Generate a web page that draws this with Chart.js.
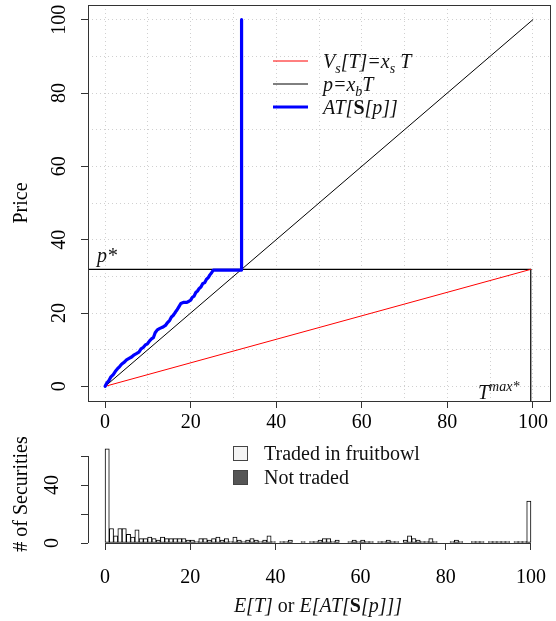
<!DOCTYPE html>
<html>
<head>
<meta charset="utf-8">
<script src="https://cdn.jsdelivr.net/npm/chart.js@4.4.1/dist/chart.umd.min.js"></script>
<style>
  body { margin: 0; background: #fff; width: 556px; height: 621px; position: relative; overflow: hidden; }
  canvas { position: absolute; left: 0; }
  #top { top: 0; }
  #hist { top: 436px; }
</style>
</head>
<body>
<canvas id="top" width="556" height="440"></canvas>
<canvas id="hist" width="556" height="185"></canvas>
<script>
// tick labels
const priceTicks = [0, 20, 40, 60, 80, 100];
const gridLines = [0, 10, 20, 30, 40, 50, 60, 70, 80, 90, 100];
const countTicks = [0, 20, 40, 60];
const countLabels = ["0", "", "40", ""];

// equilibrium values
const pStar = 31.9;
const tMax = 99.5;

// p = x_b T
const buyerT = [0, 100];
const buyerP = [0, 100];
// V_s[T] = x_s T
const sellerT = [0, tMax];
const sellerV = [0, pStar];
// AT[S[p]] (stepwise)
const atT = [0, 0.4, 0.9, 1.3, 1.9, 2.4, 2.9, 3.4, 3.9, 4.5, 5.0, 5.6, 6.2, 6.8, 7.3, 7.9,
  8.4, 8.9, 9.4, 9.9, 10.4, 10.9, 11.3, 11.7, 12.2, 12.8, 13.4, 14.1, 14.6, 15.1, 15.5,
  15.9, 16.4, 16.8, 17.2, 17.7, 18.4, 19.1, 19.6, 20.0, 20.4, 20.8, 21.2, 21.6, 22.0,
  22.4, 22.8, 23.3, 23.7, 24.1, 24.5, 24.9, 25.3, 31.9, 31.9];
const atP = [0, 0.9, 1.6, 2.5, 3.2, 4.1, 4.8, 5.4, 6.1, 6.6, 7.2, 7.6, 8.0, 8.6, 8.9, 9.3,
  10.2, 10.6, 11.3, 11.6, 12.4, 13.0, 13.3, 14.6, 15.4, 15.8, 16.1, 16.6, 17.4, 18.0, 18.9,
  19.3, 20.2, 20.8, 21.6, 22.6, 22.9, 22.9, 23.2, 23.5, 24.3, 24.6, 25.6, 26.0, 26.7,
  27.1, 28.0, 28.3, 29.2, 29.6, 30.4, 31.0, 31.7, 31.7, 100];

// histogram, bins of width 1 from 0 to 100
const tradedCounts = [
  65, 10, 5, 10, 10, 6, 4, 9, 3, 3, 4, 3, 2, 4, 3, 3, 3, 3, 3, 2,
  2, 1, 3, 3, 2, 3, 4, 2, 3, 1, 4, 2, 1, 2, 3, 2, 1, 2, 5, 1,
  0, 1, 1, 2, 0, 0, 1, 0, 1, 1, 2, 3, 3, 1, 2, 0, 0, 1, 2, 1,
  2, 1, 1, 0, 1, 1, 2, 1, 1, 0, 2, 5, 3, 2, 1, 1, 3, 1, 0, 0,
  0, 1, 2, 1, 0, 0, 1, 1, 1, 0, 1, 1, 1, 1, 1, 0, 1, 1, 1, 29];

const serif = '"Liberation Serif", "DejaVu Serif", serif';
const it = (s) => "italic " + s + "px " + serif;
const bd = (s) => "bold " + s + "px " + serif;
const rm = (s) => s + "px " + serif;
const tickFont = { family: serif, size: 20 };

function pts(xs, ys) {
  return xs.map((x, i) => ({ x: x, y: ys[i] }));
}

// draw a run of text pieces [text, font, dy]
function rich(ctx, parts, x, y, align) {
  ctx.save();
  ctx.textBaseline = "alphabetic";
  ctx.textAlign = "left";
  let w = 0;
  parts.forEach((p) => { ctx.font = p[1]; w += ctx.measureText(p[0]).width; });
  let cx = align === "center" ? x - w / 2 : x;
  parts.forEach((p) => {
    ctx.font = p[1];
    ctx.fillText(p[0], cx, y + (p[2] || 0));
    cx += ctx.measureText(p[0]).width;
  });
  ctx.restore();
}

function vlabel(ctx, text, x, y) {
  ctx.save();
  ctx.translate(x, y);
  ctx.rotate(-Math.PI / 2);
  ctx.font = rm(20);
  ctx.fillStyle = "#000";
  ctx.textAlign = "center";
  ctx.textBaseline = "middle";
  ctx.fillText(text, 0, 0);
  ctx.restore();
}

// keep the plot region fixed, whatever the label widths
function fixX(h) {
  return (s) => { s.height = h; s.paddingLeft = 0; s.paddingRight = 0; };
}

const lineDefaults = { showLine: true, pointRadius: 0, fill: false, tension: 0,
  borderCapStyle: "round", borderJoinStyle: "round" };

const topDecor = {
  id: "topDecor",
  afterDraw(chart) {
    const ctx = chart.ctx;
    const a = chart.chartArea;
    ctx.save();
    ctx.strokeStyle = "#333";
    ctx.lineWidth = 1;
    ctx.strokeRect(a.left + 0.5, a.top + 0.5, a.right - a.left, a.bottom - a.top);
    priceTicks.forEach((v) => vlabel(ctx, String(v), 60, chart.scales.y.getPixelForValue(v)));

    // legend
    const rows = [
      { color: "#ff0000", w: 1, y: 61, parts: [["V", it(20)], ["s", it(14), 5], ["[T]=x", it(20)], ["s", it(14), 5], [" T", it(20)]] },
      { color: "#000000", w: 1, y: 84, parts: [["p=x", it(20)], ["b", it(14), 5], ["T", it(20)]] },
      { color: "#0000ff", w: 3.2, y: 107, parts: [["AT[", it(20)], ["S", bd(20)], ["[p]]", it(20)]] },
    ];
    ctx.fillStyle = "#111";
    rows.forEach((r) => {
      ctx.strokeStyle = r.color;
      ctx.lineWidth = r.w;
      ctx.beginPath();
      ctx.moveTo(273, r.y);
      ctx.lineTo(308, r.y);
      ctx.stroke();
      rich(ctx, r.parts, 323, r.y + 7);
    });

    rich(ctx, [["p*", it(20)]], 97, 262);
    rich(ctx, [["T", it(20)], ["max*", it(14), -8]], 478, 399);
    ctx.restore();
  },
};

new Chart(document.getElementById("top"), {
  type: "scatter",
  data: {
    datasets: [
      Object.assign({ data: pts(atT, atP), borderColor: "#0000ff", borderWidth: 3.2, order: 0 }, lineDefaults),
      Object.assign({ data: pts(buyerT, buyerP), borderColor: "#000", borderWidth: 1, order: 1 }, lineDefaults),
      Object.assign({ data: pts(sellerT, sellerV), borderColor: "#ff0000", borderWidth: 1, order: 2 }, lineDefaults),
      Object.assign({ data: [{ x: -4, y: pStar }, { x: tMax, y: pStar }], borderColor: "#000", borderWidth: 1.2, order: 3 }, lineDefaults),
      Object.assign({ data: [{ x: tMax, y: -4 }, { x: tMax, y: pStar }], borderColor: "#000", borderWidth: 1.2, order: 4 }, lineDefaults),
    ],
  },
  options: {
    responsive: false,
    animation: false,
    devicePixelRatio: 1,
    layout: { padding: { left: 0, right: 6, top: 5, bottom: 0 } },
    plugins: { legend: { display: false }, tooltip: { enabled: false } },
    scales: {
      x: {
        type: "linear",
        min: -4,
        max: 104,
        afterBuildTicks: (s) => { s.ticks = gridLines.map((v) => ({ value: v })); },
        afterFit: fixX(39),
        ticks: {
          callback: (v) => (priceTicks.includes(v) ? String(v) : ""),
          font: tickFont, color: "#000", padding: 3, maxRotation: 0, autoSkip: false,
        },
        grid: {
          color: "#d0d0d0",
          tickLength: 7,
          tickColor: (c) => (c.tick && priceTicks.includes(c.tick.value) ? "#333" : "rgba(0,0,0,0)"),
        },
        border: { display: false, dash: [1, 3] },
      },
      y: {
        type: "linear",
        min: -4,
        max: 104,
        afterBuildTicks: (s) => { s.ticks = gridLines.map((v) => ({ value: v })); },
        afterFit: (s) => { s.width = 88; },
        ticks: { display: false },
        grid: {
          color: "#d0d0d0",
          tickLength: 7,
          tickColor: (c) => (c.tick && priceTicks.includes(c.tick.value) ? "#333" : "rgba(0,0,0,0)"),
        },
        border: { display: false, dash: [1, 3] },
        title: { display: true, text: "Price", font: tickFont, color: "#000", padding: { top: 10, bottom: 0 } },
      },
    },
  },
  plugins: [topDecor],
});

const histDecor = {
  id: "histDecor",
  afterDraw(chart) {
    const ctx = chart.ctx;
    const x = chart.scales.x;
    const y = chart.scales.y;
    const a = chart.chartArea;
    ctx.save();
    ctx.strokeStyle = "#333";
    ctx.lineWidth = 1;
    ctx.beginPath();
    ctx.moveTo(x.getPixelForValue(0), Math.round(a.bottom) + 0.5);
    ctx.lineTo(x.getPixelForValue(100), Math.round(a.bottom) + 0.5);
    ctx.moveTo(Math.round(a.left) + 0.5, y.getPixelForValue(0));
    ctx.lineTo(Math.round(a.left) + 0.5, y.getPixelForValue(60));
    ctx.stroke();
    countTicks.forEach((v, i) => { if (countLabels[i]) vlabel(ctx, countLabels[i], 53, y.getPixelForValue(v)); });

    // legend
    ctx.fillStyle = "#f4f4f4";
    ctx.strokeStyle = "#444";
    ctx.fillRect(233.5, 446.5 - 436, 14, 14);
    ctx.strokeRect(233.5, 446.5 - 436, 14, 14);
    ctx.fillStyle = "#555";
    ctx.fillRect(233.5, 470.5 - 436, 14, 14);
    ctx.strokeRect(233.5, 470.5 - 436, 14, 14);
    ctx.fillStyle = "#111";
    rich(ctx, [["Traded in fruitbowl", rm(20)]], 264, 460 - 436);
    rich(ctx, [["Not traded", rm(20)]], 264, 484 - 436);

    rich(ctx, [["E[T]", it(20)], [" or ", rm(20)], ["E[AT[", it(20)], ["S", bd(20)], ["[p]]]", it(20)]], 318, 612 - 436, "center");
    ctx.restore();
  },
};

new Chart(document.getElementById("hist"), {
  type: "bar",
  data: {
    datasets: [{
      data: tradedCounts.map((c, i) => ({ x: i + 0.5, y: c })),
      backgroundColor: "#ffffff",
      borderColor: "#000",
      borderWidth: 1,
      borderSkipped: false,
      barPercentage: 1,
      categoryPercentage: 1,
    }],
  },
  options: {
    responsive: false,
    animation: false,
    devicePixelRatio: 1,
    layout: { padding: { left: 0, right: 8, top: 9, bottom: 0 } },
    plugins: { legend: { display: false }, tooltip: { enabled: false } },
    scales: {
      x: {
        type: "linear",
        offset: false,
        min: -4,
        max: 104,
        afterBuildTicks: (s) => { s.ticks = priceTicks.map((v) => ({ value: v })); },
        afterFit: fixX(78),
        ticks: { font: tickFont, color: "#000", padding: 16, maxRotation: 0, autoSkip: false },
        grid: { offset: false, drawOnChartArea: false, tickLength: 7, tickColor: "#333" },
        border: { display: false },
      },
      y: {
        min: 0,
        max: 67.6,
        afterBuildTicks: (s) => { s.ticks = countTicks.map((v) => ({ value: v })); },
        afterFit: (s) => { s.width = 88; },
        ticks: { display: false },
        grid: { drawOnChartArea: false, tickLength: 7, tickColor: "#333" },
        border: { display: false },
        title: { display: true, text: "# of Securities", font: tickFont, color: "#000", padding: { top: 10, bottom: 0 } },
      },
    },
  },
  plugins: [histDecor],
});
</script>
</body>
</html>
